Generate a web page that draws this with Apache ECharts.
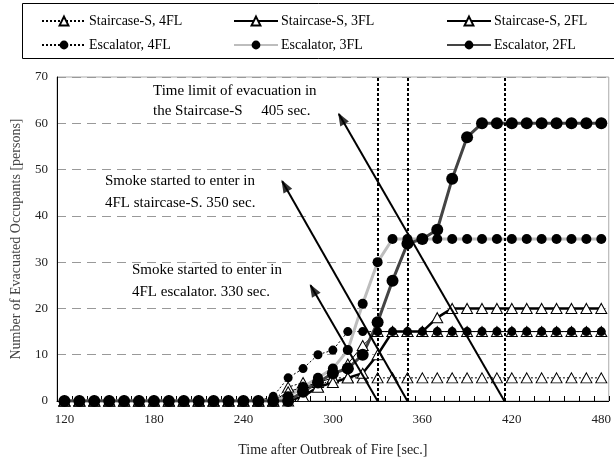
<!DOCTYPE html>
<html>
<head>
<meta charset="utf-8">
<script src="https://cdn.jsdelivr.net/npm/echarts@6/dist/echarts.min.js"></script>
<style>
html,body{margin:0;padding:0;background:#fff;}
#chart{width:614px;height:463px;}
</style>
</head>
<body>
<div id="chart"></div>
<script>
// ---- data ----
const times = ['120','130','140','150','160','170','180','190','200','210','220','230','240','250','260','270','280','290','300','310','320','330','340','350','360','370','380','390','400','410','420','430','440','450','460','470','480'];
const stair4 = [0,0,0,0,0,0,0,0,0,0,0,0,0,0,0, 3,4,3,5, 5,5,5,5,5,5,5,5,5,5,5,5,5,5,5,5,5,5];
const stair3 = [0,0,0,0,0,0,0,0,0,0,0,0,0,0,0, 2,3,4,5,8,12,15, 15,15,15,15,15,15,15,15,15,15,15,15,15,15,15];
const stair2 = [0,0,0,0,0,0,0,0,0,0,0,0,0,0,0,0, 1,3,4,5,6,10,15,15,15,18, 20,20,20,20,20,20,20,20,20,20,20];
const esc4   = [0,0,0,0,0,0,0,0,0,0,0,0,0,0, 1,5,7,10,11, 15,15,15,15,15,15,15,15,15,15,15,15,15,15,15,15,15,15];
const esc3   = [0,0,0,0,0,0,0,0,0,0,0,0,0,0,0, 1,3,5,7,11,21,30, 35,35,35,35,35,35,35,35,35,35,35,35,35,35,35];
const esc2   = [0,0,0,0,0,0,0,0,0,0,0,0,0,0,0,0, 2,4,6,7,10,17,26,34,35,37,48,57, 60,60,60,60,60,60,60,60,60];
const seriesNames = ['Staircase-S, 4FL','Staircase-S, 3FL','Staircase-S, 2FL','Escalator, 4FL','Escalator, 3FL','Escalator, 2FL'];
const yTicks = [0,10,20,30,40,50,60,70];
// event times (sec) where vertical dotted lines are drawn
const eventTimes = [330, 350, 415];
// arrow tips [time, persons]
const arrowTips = [[285, 25], [266, 47.5], [304, 62]];
const notes = [
  'Time limit of evacuation in', 'the Staircase-S     405 sec.',
  'Smoke started to enter in', '4FL staircase-S. 350 sec.',
  'Smoke started to enter in', '4FL escalator. 330 sec.'
];

const FONT = "'Liberation Serif', 'Times New Roman', serif";
const chart = echarts.init(document.getElementById('chart'), null, {renderer:'canvas'});

const triSym = {symbol:'triangle', symbolSize:[11,10], itemStyle:{color:'#fff', borderColor:'#000', borderWidth:1}};
const series = [
  Object.assign({name:seriesNames[0], type:'line', data:stair4, lineStyle:{color:'#000', width:1, type:[2,2]}}, triSym),
  Object.assign({name:seriesNames[1], type:'line', data:stair3, lineStyle:{color:'#000', width:1}}, triSym),
  Object.assign({name:seriesNames[2], type:'line', data:stair2, lineStyle:{color:'#000', width:2.5}}, triSym),
  {name:seriesNames[3], type:'line', data:esc4, symbol:'circle', symbolSize:9, itemStyle:{color:'#000'}, lineStyle:{color:'#000', width:1, type:[2,2]}},
  {name:seriesNames[4], type:'line', data:esc3, symbol:'circle', symbolSize:10, itemStyle:{color:'#000'}, lineStyle:{color:'#bdbdbd', width:3}},
  {name:seriesNames[5], type:'line', data:esc2, symbol:'circle', symbolSize:12, itemStyle:{color:'#000'}, lineStyle:{color:'#444', width:3}}
];
series.forEach(s => { s.animation = false; s.showAllSymbol = true; s.z = 3; });

// annotation series on hidden value axis
series.push({
  type:'line', xAxisIndex:1, data:[], animation:false, silent:true,
  markLine:{
    silent:true, animation:false, symbol:['none','none'], label:{show:false},
    lineStyle:{color:'#000', width:2, type:[3,2]},
    data: eventTimes.map(t => [{coord:[t,0]},{coord:[t,70]}])
  }
});
series.push({
  type:'line', xAxisIndex:1, data:[], animation:false, silent:true,
  markLine:{
    silent:true, animation:false, symbol:['none','none'], label:{show:false},
    lineStyle:{color:'#000', width:2, type:'solid'},
    data: eventTimes.map((t,i) => [{coord:[t,0]},{coord:arrowTips[i]}])
  }
});

// legends
const legPos = [[36,9],[228,9],[441,9],[36,33],[228,33],[441,33]];
const legends = seriesNames.map((n,i)=>({
  data:[n], left:legPos[i][0], top:legPos[i][1], itemWidth:44, itemHeight:11, itemGap:0,
  selectedMode:false, textStyle:{fontFamily:FONT, fontSize:14, color:'#000', padding:[0,0,0,-2]}
}));

const noteGraphics = [
  {x:153, y:93, t:notes[0]}, {x:153, y:113, t:notes[1]},
  {x:105, y:183, t:notes[2]}, {x:105, y:205, t:notes[3]},
  {x:132, y:272, t:notes[4]}, {x:132, y:294, t:notes[5]}
].map(o=>({type:'text', left:o.x, top:o.y-9, z:10, style:{text:o.t, font:'15px '+FONT, fill:'#000'}}));

chart.setOption({
  animation:false,
  backgroundColor:'#fff',
  grid:{left:57, right:2, top:77, bottom:62, show:true, borderColor:'#aaa', borderWidth:1, containLabel:false},
  legend: legends,
  xAxis:[{
    type:'category', data:times, boundaryGap:true,
    axisLine:{lineStyle:{color:'#000', width:1}},
    axisTick:{show:true, inside:true, interval:0, length:5, lineStyle:{color:'#000'}},
    axisLabel:{interval:5, fontFamily:FONT, fontSize:13, color:'#222', margin:12},
    name:'Time after Outbreak of Fire [sec.]', nameLocation:'middle', nameGap:42,
    nameTextStyle:{fontFamily:FONT, fontSize:14, color:'#222'}
  },{
    type:'value', min:115, max:485, show:false
  }],
  yAxis:{
    type:'value', min:0, max:70, interval:10,
    axisLine:{show:true, lineStyle:{color:'#000', width:1}},
    axisTick:{show:false},
    axisLabel:{fontFamily:FONT, fontSize:13, color:'#222', margin:9},
    splitLine:{show:true, lineStyle:{color:'#999', type:[9,6], width:1}},
    name:'Number of Evacuated Occupants [persons]', nameLocation:'middle', nameGap:34, nameRotate:90,
    nameTextStyle:{fontFamily:FONT, fontSize:14, color:'#444'}
  },
  graphic:[
    {type:'rect', left:22, top:3, z:-1, shape:{width:620, height:55}, style:{fill:'#fff', stroke:'#000', lineWidth:1}}
  ].concat(noteGraphics),
  series:series
});

// arrowheads: rotation derived from the axes' own pixel mapping
const heads = eventTimes.map((t,i) => {
  const p0 = chart.convertToPixel({xAxisIndex:1, yAxisIndex:0}, [t, 0]);
  const p1 = chart.convertToPixel({xAxisIndex:1, yAxisIndex:0}, arrowTips[i]);
  const dx = p1[0]-p0[0], dy = p1[1]-p0[1];
  const len = Math.sqrt(dx*dx+dy*dy);
  const rot = Math.atan2(-dx, -dy) * 180 / Math.PI;
  return {value: arrowTips[i], symbolRotate: rot, symbolOffset:[0, 0], ux: dx/len, uy: dy/len};
});
const s = chart.getOption().series;
chart.setOption({series: s.concat([{
  type:'scatter', xAxisIndex:1, yAxisIndex:0, silent:true, animation:false, z:5,
  symbol:'path://M0,0 L5,12 L-5,12 Z', symbolSize:[10,13], symbolKeepAspect:false,
  itemStyle:{color:'#000'},
  data: heads.map(h => ({value:h.value, symbolRotate:h.symbolRotate, symbolOffset:[-h.ux*5, -h.uy*5]}))
}])});
</script>
</body>
</html>
